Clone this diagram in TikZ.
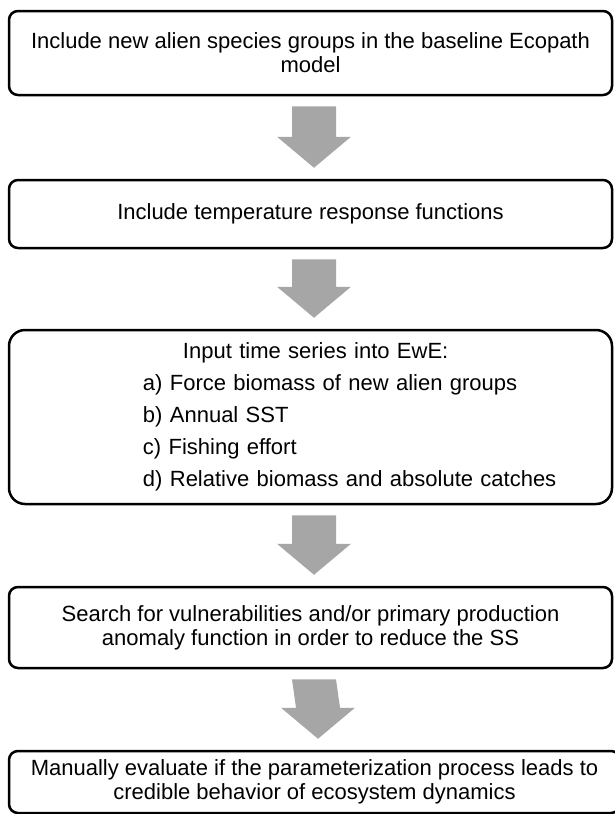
\documentclass[tikz,border=0pt]{standalone}
\usepackage{fontspec}
\setmainfont{Liberation Sans}
\usetikzlibrary{calc}
\definecolor{arrowgray}{RGB}{166,166,166}
\newcommand\flowarrow[2]{%
  \coordinate (ftop) at ($(#1.south)+(3.5,10)$);
  \coordinate (ftip) at ($(#2.north)+(3.5,-11)$);
  \fill[arrowgray] ($(ftop)+(-22,0)$) -- ($(ftop)+(22,0)$) -- ($(ftip)+(22,-31)$)
    -- ($(ftip)+(37,-31)$) -- (ftip) -- ($(ftip)+(-37,-31)$) -- ($(ftip)+(-22,-31)$) -- cycle;
}
\begin{document}
\begin{tikzpicture}[x=1pt,y=-1pt,
  flowbox/.style={draw=black, line width=2.5pt, fill=white, rounded corners=9pt,
    minimum width=603pt, inner sep=0pt, align=center,
    font=\fontsize{22}{24}\selectfont}]
\useasboundingbox (0,0) rectangle (614,814);
\fill[white] (0,0) rectangle (614,814);
\node[flowbox, minimum height=84pt] (b1) at (310.5,53)
  {Include new alien species groups in the baseline Ecopath\\model};
\node[flowbox, minimum height=68pt] (b2) at (310.5,214)
  {Include temperature response functions};
\node[flowbox, minimum height=174pt, rounded corners=16pt, text width=603pt, align=left,
  font=\fontsize{22}{32}\selectfont] (b3) at (310.5,417)
  {\hspace*{174pt}Input time series into EwE:\\
   \hspace*{134pt}a) Force biomass of new alien groups\\
   \hspace*{134pt}b) Annual SST\\
   \hspace*{134pt}c) Fishing effort\\
   \hspace*{134pt}d) Relative biomass and absolute catches};
\node[flowbox, minimum height=81pt] (b4) at (310.5,627.5)
  {Search for vulnerabilities and/or primary production\\anomaly function in order to reduce the SS};
\node[flowbox, minimum height=62pt, minimum width=611pt] (b5) at (314.5,782)
  {Manually evaluate if the parameterization process leads to\\credible behavior of ecosystem dynamics};
\flowarrow{b1}{b2}
\flowarrow{b2}{b3}
\flowarrow{b3}{b4}
\flowarrow{b4}{b5}
\end{tikzpicture}
\end{document}
